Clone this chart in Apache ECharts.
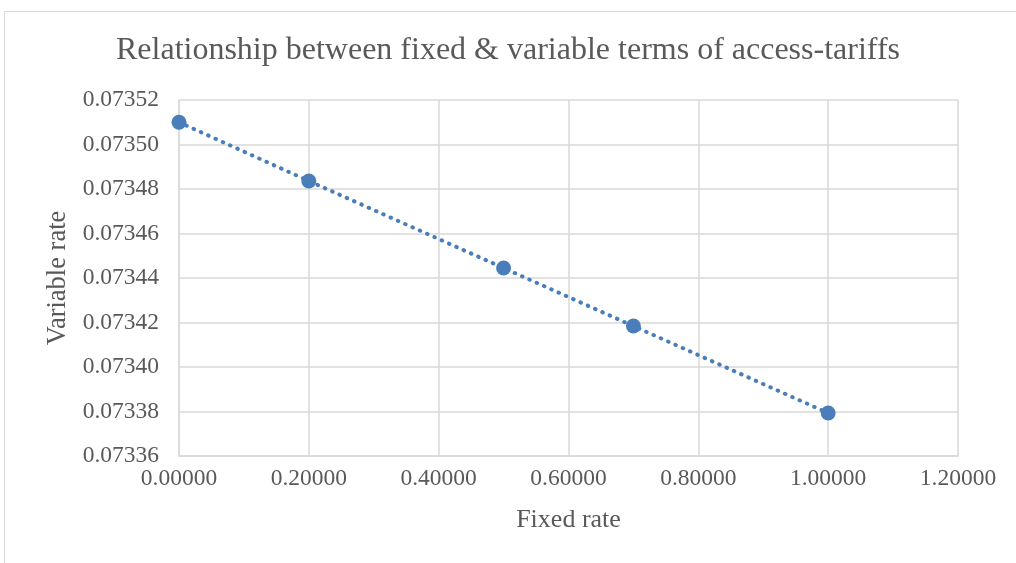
<!DOCTYPE html>
<html>
<head>
<meta charset="utf-8">
<script src="https://cdn.jsdelivr.net/npm/echarts@6/dist/echarts.min.js"></script>
<style>
  html, body { margin: 0; padding: 0; background: #ffffff; }
  #chart { width: 1016px; height: 563px; }
</style>
</head>
<body>
<div id="chart"></div>
<script>
// Fixed term of the access tariff (x) and the resulting variable term (y)
const fixedRates = [0.0, 0.2, 0.5, 0.7, 1.0];
const variableRates = [0.073510, 0.0734836, 0.0734445, 0.0734184, 0.0733793];

const chartTitle = 'Relationship between fixed & variable terms of access-tariffs';
const xName = 'Fixed rate';
const yName = 'Variable rate';

const FONT = '"Liberation Serif", "Times New Roman", serif';
const TEXT = '#595959';
const GRID = '#d9d9d9';
const BLUE = '#4a7ebb';

const points = fixedRates.map((x, i) => [x, variableRates[i]]);

const chart = echarts.init(document.getElementById('chart'), null, { renderer: 'canvas' });

chart.setOption({
  backgroundColor: '#ffffff',
  animation: false,
  graphic: [{
    type: 'rect',
    shape: { x: 4.5, y: 11.5, width: 1100, height: 700 },
    style: { fill: 'none', stroke: GRID, lineWidth: 1 },
    silent: true,
    z: -1
  }],
  title: {
    text: chartTitle,
    left: 'center',
    top: 30,
    textStyle: { fontFamily: FONT, fontSize: 32, fontWeight: 'normal', color: TEXT }
  },
  grid: { left: 179, right: 58, top: 100, bottom: 107, containLabel: false },
  xAxis: {
    type: 'value',
    min: 0,
    max: 1.2,
    interval: 0.2,
    name: xName,
    nameLocation: 'middle',
    nameGap: 51,
    nameTextStyle: { fontFamily: FONT, fontSize: 26, color: TEXT },
    axisLine: { show: true, lineStyle: { color: GRID, width: 1.5 } },
    axisTick: { show: false },
    axisLabel: {
      fontFamily: FONT, fontSize: 23.5, color: TEXT, margin: 11,
      formatter: v => v.toFixed(5)
    },
    splitLine: { show: true, lineStyle: { color: GRID, width: 1.5 } }
  },
  yAxis: {
    type: 'value',
    min: 0.07336,
    max: 0.07352,
    interval: 0.00002,
    name: yName,
    nameLocation: 'middle',
    nameGap: 102,
    nameTextStyle: { fontFamily: FONT, fontSize: 26.5, color: TEXT },
    axisLine: { show: true, lineStyle: { color: GRID, width: 1.5 } },
    axisTick: { show: false },
    axisLabel: {
      fontFamily: FONT, fontSize: 23.5, color: TEXT, margin: 20,
      formatter: v => v.toFixed(5)
    },
    splitLine: { show: true, lineStyle: { color: GRID, width: 1.5 } }
  },
  series: [{
    type: 'line',
    data: points,
    symbol: 'circle',
    symbolSize: 15,
    itemStyle: { color: BLUE },
    lineStyle: { color: BLUE, width: 4, type: [0.5, 7.5], cap: 'round' },
    z: 3
  }]
});
</script>
</body>
</html>
